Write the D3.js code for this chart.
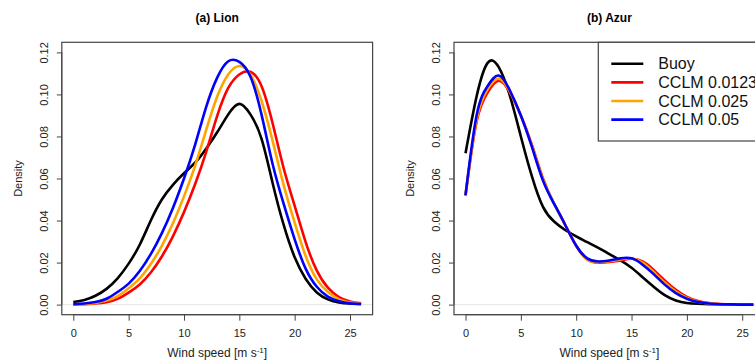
<!DOCTYPE html>
<html>
<head>
<meta charset="utf-8">
<script src="https://cdn.jsdelivr.net/npm/d3@7"></script>
<style>
  body { margin: 0; background: #fff; }
  svg { font-family: "Liberation Sans", Arial, Helvetica, sans-serif; }
</style>
</head>
<body>
<svg id="chart" width="755" height="362"></svg>
<script>
// wind speed grid (m/s)
const windSpeed = [0, 1, 2, 3, 4, 5, 6, 7, 8, 9, 10, 11, 12, 13, 14, 15, 16, 17, 18, 19, 20, 21, 22, 23, 24, 25, 26];

// (a) Lion densities
const lionBuoy = [0.0012, 0.0022, 0.0042, 0.0075, 0.0125, 0.0195, 0.0285, 0.040, 0.050, 0.057, 0.0625, 0.0675, 0.0742, 0.082, 0.0905, 0.0955, 0.0905, 0.079, 0.058, 0.038, 0.0225, 0.0122, 0.0058, 0.0025, 0.001, 0.0005, 0.0003];
const lionC0123 = [0.0001, 0.0002, 0.0005, 0.0011, 0.0027, 0.0057, 0.0096, 0.0153, 0.0229, 0.0325, 0.044, 0.0573, 0.0726, 0.0898, 0.1031, 0.1095, 0.1108, 0.104, 0.0864, 0.065, 0.047, 0.0296, 0.0162, 0.0081, 0.0036, 0.0015, 0.0006];
const lionC025 = [0.0001, 0.0003, 0.0008, 0.0019, 0.004, 0.0078, 0.0125, 0.0193, 0.028, 0.0387, 0.0515, 0.066, 0.083, 0.099, 0.1095, 0.1135, 0.1095, 0.097, 0.078, 0.057, 0.039, 0.023, 0.012, 0.006, 0.0025, 0.001, 0.0004];
const lionC05 = [0.0002, 0.0005, 0.0012, 0.0028, 0.006, 0.010, 0.016, 0.024, 0.034, 0.046, 0.060, 0.076, 0.094, 0.108, 0.1158, 0.1155, 0.1085, 0.0905, 0.067, 0.048, 0.031, 0.017, 0.0085, 0.0038, 0.0016, 0.0006, 0.0003];

// (b) Azur densities
const azurBuoy = [0.072, 0.099, 0.1150, 0.1130, 0.0995, 0.080, 0.061, 0.0465, 0.0395, 0.0355, 0.0325, 0.0297, 0.027, 0.024, 0.021, 0.0175, 0.013, 0.0085, 0.0045, 0.002, 0.0008, 0.0004, 0.0002, 0.0001, 0, 0, 0];
const azurC0123 = [0.052, 0.087, 0.101, 0.1065, 0.101, 0.090, 0.076, 0.060, 0.048, 0.038, 0.028, 0.0215, 0.020, 0.0203, 0.021, 0.0218, 0.0205, 0.0165, 0.0115, 0.007, 0.0037, 0.0017, 0.0007, 0.0003, 0.0001, 0, 0];
const azurC025 = [0.052, 0.088, 0.1025, 0.1075, 0.1015, 0.090, 0.0755, 0.0595, 0.048, 0.038, 0.028, 0.0213, 0.0203, 0.0207, 0.0215, 0.022, 0.020, 0.0155, 0.0105, 0.0062, 0.0032, 0.0014, 0.0006, 0.0002, 0.0001, 0, 0];
const azurC05 = [0.052, 0.090, 0.104, 0.109, 0.102, 0.090, 0.075, 0.059, 0.048, 0.038, 0.028, 0.022, 0.0205, 0.021, 0.022, 0.022, 0.019, 0.0145, 0.0095, 0.0055, 0.0028, 0.0012, 0.0005, 0.0002, 0.0001, 0, 0];

const seriesNames = ["Buoy", "CCLM 0.0123", "CCLM 0.025", "CCLM 0.05"];
const seriesColors = ["#000000", "#ff0000", "#ffa500", "#0000ff"];
const xTicks = [0, 5, 10, 15, 20, 25];
const yTicks = [0, 0.02, 0.04, 0.06, 0.08, 0.10, 0.12];

const svg = d3.select("#chart");

function drawPanel(left, title, seriesList, withLegend) {
    const top = 42.3, bottom = 314.7, width = 310.8;

    // R-style 4% padding around xlim c(0,26) and ylim c(0,0.12)
    let x = d3.scaleLinear().domain([-1.04, 27.04]).range([left, left + width]);
    let y = d3.scaleLinear().domain([-0.0048, 0.1248]).range([bottom, top]);

    let g = svg.append("g");

    // faint zero line
    g.append("line")
        .attr("x1", left).attr("x2", left + width)
        .attr("y1", y(0)).attr("y2", y(0))
        .attr("stroke", "#e6e6e6").attr("stroke-width", 1);

    let line = d3.line()
        .x((d, i) => x(windSpeed[i]))
        .y(d => y(d))
        .curve(d3.curveNatural);

    g.selectAll("path.dens")
        .data(seriesList)
        .enter().append("path")
        .attr("class", "dens")
        .attr("d", d => line(d))
        .attr("fill", "none")
        .attr("stroke", (d, i) => seriesColors[i])
        .attr("stroke-width", 2.6)
        .attr("stroke-linejoin", "round");

    // box
    g.append("rect")
        .attr("x", left).attr("y", top)
        .attr("width", width).attr("height", bottom - top)
        .attr("fill", "none").attr("stroke", "#444").attr("stroke-width", 1.2);

    // x axis
    let xAxis = g.append("g")
        .attr("transform", `translate(0,${bottom})`)
        .call(d3.axisBottom(x).tickValues(xTicks).tickSize(6).tickPadding(9).tickSizeOuter(0));
    xAxis.select(".domain").attr("d", `M${x(0)},0H${x(25)}`).attr("stroke", "#444");
    xAxis.selectAll(".tick line").attr("stroke", "#444");
    xAxis.selectAll("text").attr("font-size", 11).attr("fill", "#222").attr("font-family", null);

    // y axis
    let yAxis = g.append("g")
        .attr("transform", `translate(${left},0)`)
        .call(d3.axisLeft(y).tickValues(yTicks).tickFormat(d3.format(".2f")).tickSize(5).tickSizeOuter(0));
    yAxis.select(".domain").attr("d", `M0,${y(0)}V${y(0.12)}`).attr("stroke", "#444");
    yAxis.selectAll(".tick line").attr("stroke", "#444");
    yAxis.selectAll(".tick text")
        .attr("x", null).attr("dy", null)
        .attr("transform", "translate(-18,0) rotate(-90)")
        .attr("text-anchor", "middle")
        .attr("dominant-baseline", "central")
        .attr("font-size", 11).attr("fill", "#222").attr("font-family", null);

    // labels
    g.append("text")
        .attr("x", left + width / 2).attr("y", 22)
        .attr("text-anchor", "middle")
        .attr("font-size", 12).attr("font-weight", "bold")
        .text(title);

    let xl = g.append("text")
        .attr("x", x(13)).attr("y", 357)
        .attr("text-anchor", "middle")
        .attr("font-size", 12).attr("fill", "#222");
    xl.append("tspan").text("Wind speed [m s");
    xl.append("tspan").attr("dy", -4).attr("font-size", 8).text("-1");
    xl.append("tspan").attr("dy", 4).text("]");

    g.append("text")
        .attr("transform", `translate(${left - 44},${(top + bottom) / 2}) rotate(-90)`)
        .attr("text-anchor", "middle")
        .attr("dominant-baseline", "central")
        .attr("font-size", 11).attr("fill", "#222")
        .text("Density");

    if (withLegend) {
        let lx = 598.3, ly = 42.3;
        let leg = g.append("g");
        leg.append("rect")
            .attr("x", lx).attr("y", ly)
            .attr("width", left + width - lx).attr("height", 98.7)
            .attr("fill", "#fff").attr("stroke", "#444").attr("stroke-width", 1.2);
        let rows = leg.selectAll("g.row")
            .data(seriesNames)
            .enter().append("g")
            .attr("class", "row")
            .attr("transform", (d, i) => `translate(${lx},${ly + 21.5 + i * 18.6})`);
        rows.append("line")
            .attr("x1", 13).attr("x2", 45)
            .attr("stroke", (d, i) => seriesColors[i])
            .attr("stroke-width", 2.6);
        rows.append("text")
            .attr("x", 60).attr("dominant-baseline", "central")
            .attr("font-size", 16).attr("fill", "#111")
            .text(d => d);
    }
}

drawPanel(61.8, "(a) Lion", [lionBuoy, lionC0123, lionC025, lionC05], false);
drawPanel(454, "(b) Azur", [azurBuoy, azurC0123, azurC025, azurC05], true);
</script>
</body>
</html>
